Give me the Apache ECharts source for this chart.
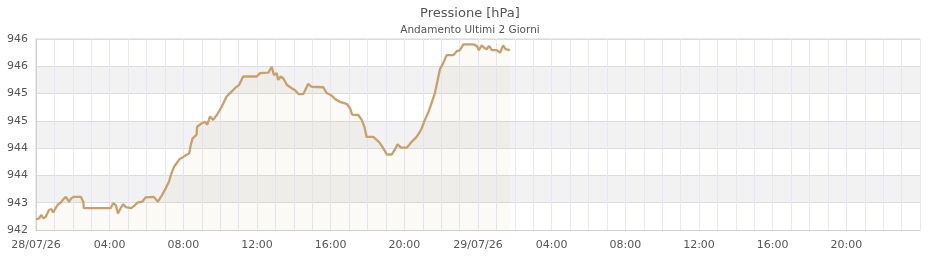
<!DOCTYPE html>
<html>
<head>
<meta charset="utf-8">
<script src="https://cdn.jsdelivr.net/npm/echarts@6/dist/echarts.min.js"></script>
<style>html,body{margin:0;padding:0;background:#fff}#c{width:940px;height:260px}</style>
</head>
<body>
<div id="c"></div>
<script>
const titleText = 'Pressione [hPa]';
const subtitleText = 'Andamento Ultimi 2 Giorni';
const xTickLabels = ['28/07/26','04:00','08:00','12:00','16:00','20:00','29/07/26','04:00','08:00','12:00','16:00','20:00','30/07/26'];
const yTickLabels = ['942','943','944','944','945','945','946','946'];
const times = [
'2026-07-28T00:00','2026-07-28T00:10','2026-07-28T00:17','2026-07-28T00:24','2026-07-28T00:32','2026-07-28T00:42','2026-07-28T00:50','2026-07-28T00:56',
'2026-07-28T01:04','2026-07-28T01:12','2026-07-28T01:20','2026-07-28T01:29','2026-07-28T01:37','2026-07-28T01:42','2026-07-28T01:48','2026-07-28T01:55',
'2026-07-28T02:02','2026-07-28T02:26','2026-07-28T02:34','2026-07-28T02:36','2026-07-28T04:03','2026-07-28T04:12','2026-07-28T04:20','2026-07-28T04:27',
'2026-07-28T04:36','2026-07-28T04:44','2026-07-28T04:52','2026-07-28T05:10','2026-07-28T05:19','2026-07-28T05:30','2026-07-28T05:46','2026-07-28T05:57',
'2026-07-28T06:24','2026-07-28T06:37','2026-07-28T06:51','2026-07-28T07:03','2026-07-28T07:13','2026-07-28T07:21','2026-07-28T07:30','2026-07-28T07:38',
'2026-07-28T07:47','2026-07-28T08:00','2026-07-28T08:09','2026-07-28T08:19','2026-07-28T08:24','2026-07-28T08:30','2026-07-28T08:43','2026-07-28T08:45',
'2026-07-28T09:00','2026-07-28T09:11','2026-07-28T09:18','2026-07-28T09:27','2026-07-28T09:37','2026-07-28T09:49','2026-07-28T10:05','2026-07-28T10:21',
'2026-07-28T10:32','2026-07-28T10:48','2026-07-28T11:02','2026-07-28T11:15','2026-07-28T11:59','2026-07-28T12:10','2026-07-28T12:37','2026-07-28T12:48',
'2026-07-28T12:55','2026-07-28T13:04','2026-07-28T13:09','2026-07-28T13:17','2026-07-28T13:26','2026-07-28T13:37','2026-07-28T13:53','2026-07-28T14:04',
'2026-07-28T14:15','2026-07-28T14:31','2026-07-28T14:47','2026-07-28T14:58','2026-07-28T15:36','2026-07-28T15:47','2026-07-28T16:03','2026-07-28T16:14',
'2026-07-28T16:30','2026-07-28T16:52','2026-07-28T17:03','2026-07-28T17:10','2026-07-28T17:30','2026-07-28T17:41','2026-07-28T17:50','2026-07-28T17:57',
'2026-07-28T18:19','2026-07-28T18:30','2026-07-28T18:41','2026-07-28T18:51','2026-07-28T19:03','2026-07-28T19:19','2026-07-28T19:30','2026-07-28T19:38',
'2026-07-28T19:49','2026-07-28T20:08','2026-07-28T20:24','2026-07-28T20:40','2026-07-28T20:54','2026-07-28T21:07','2026-07-28T21:18','2026-07-28T21:31',
'2026-07-28T21:40','2026-07-28T21:49','2026-07-28T21:56','2026-07-28T22:07','2026-07-28T22:18','2026-07-28T22:40','2026-07-28T22:51','2026-07-28T23:01',
'2026-07-28T23:12','2026-07-28T23:45','2026-07-28T23:56','2026-07-29T00:03','2026-07-29T00:12','2026-07-29T00:20','2026-07-29T00:28','2026-07-29T00:36',
'2026-07-29T00:45','2026-07-29T01:01','2026-07-29T01:12','2026-07-29T01:22','2026-07-29T01:30','2026-07-29T01:44'
];
const pressure = [
942.70,942.72,942.79,942.72,942.75,942.89,942.91,942.84,
942.93,943.01,943.04,943.11,943.16,943.13,943.06,943.13,
943.16,943.16,943.06,942.93,942.93,943.03,942.99,942.82,
942.93,943.01,942.95,942.93,942.97,943.04,943.06,943.15,
943.16,943.06,943.20,943.34,943.47,943.64,943.78,943.85,
943.93,943.98,944.02,944.05,944.22,944.36,944.43,944.60,
944.67,944.70,944.64,944.81,944.74,944.84,945.01,945.22,
945.29,945.39,945.46,945.63,945.63,945.70,945.71,945.83,
945.66,945.70,945.56,945.63,945.59,945.46,945.39,945.35,
945.27,945.27,945.48,945.42,945.41,945.29,945.24,945.17,
945.11,945.07,944.98,944.85,944.84,944.74,944.60,944.39,
944.39,944.33,944.26,944.16,944.03,944.03,944.14,944.24,
944.17,944.17,944.29,944.39,944.53,944.74,944.89,945.13,
945.30,945.57,945.78,945.91,946.07,946.07,946.15,946.17,
946.29,946.29,946.26,946.17,946.27,946.22,946.19,946.26,
946.17,946.17,946.12,946.27,946.19,946.17
];
const yMin = 942.48, yMax = 946.40, yStep = 0.56;
const xStart = Date.UTC(2026,6,28,0,0), xEnd = Date.UTC(2026,6,30,0,0), xStep = 4*3600*1000;

const data = times.map((t,i)=>[new Date(t+':00Z').getTime(), pressure[i]]);
const chart = echarts.init(document.getElementById('c'), null, {renderer:'canvas'});
const F = 'DejaVu Sans';
chart.setOption({
  animation:false,
  backgroundColor:'#ffffff',
  title:[
    {text:titleText, left:'center', top:2, textStyle:{fontFamily:F,fontSize:13,fontWeight:'normal',color:'#555'}},
    {text:subtitleText, left:'center', top:20, textStyle:{fontFamily:F,fontSize:10.5,fontWeight:'normal',color:'#555'}}
  ],
  grid:{left:36,right:20,top:39,bottom:30,show:true,borderColor:'#d4d4d4',borderWidth:1,backgroundColor:'transparent'},
  xAxis:{
    type:'value', min:xStart, max:xEnd, interval:xStep,
    axisLine:{show:true,lineStyle:{color:'#d0d0d0'}},
    axisTick:{show:false},
    axisLabel:{fontFamily:F,fontSize:11,color:'#555',margin:10,showMaxLabel:false,
      formatter:v=>xTickLabels[Math.round((v-xStart)/xStep)]},
    splitLine:{show:true,lineStyle:{color:'#e6e6f5',width:1}},
    minorTick:{show:false,splitNumber:4},
    minorSplitLine:{show:true,lineStyle:{color:'#e6e6f5',width:1}}
  },
  yAxis:{
    type:'value', min:yMin, max:yMax, interval:yStep,
    axisLine:{show:true,lineStyle:{color:'#d0d0d0'}},
    axisTick:{show:false},
    axisLabel:{fontFamily:F,fontSize:11,color:'#555',margin:8,
      formatter:v=>yTickLabels[Math.round((v-yMin)/yStep)]},
    splitLine:{show:true,lineStyle:{color:'#dcdcdc',width:1}},
    splitArea:{show:true,areaStyle:{color:['#ffffff','#f2f2f2']}}
  },
  series:[{
    type:'line', data:data, showSymbol:false, symbol:'none',
    lineStyle:{color:'#c8a06c',width:2.3},
    itemStyle:{color:'#c8a06c'},
    areaStyle:{color:'rgba(200,160,108,0.08)'}
  }]
});
</script>
</body>
</html>
